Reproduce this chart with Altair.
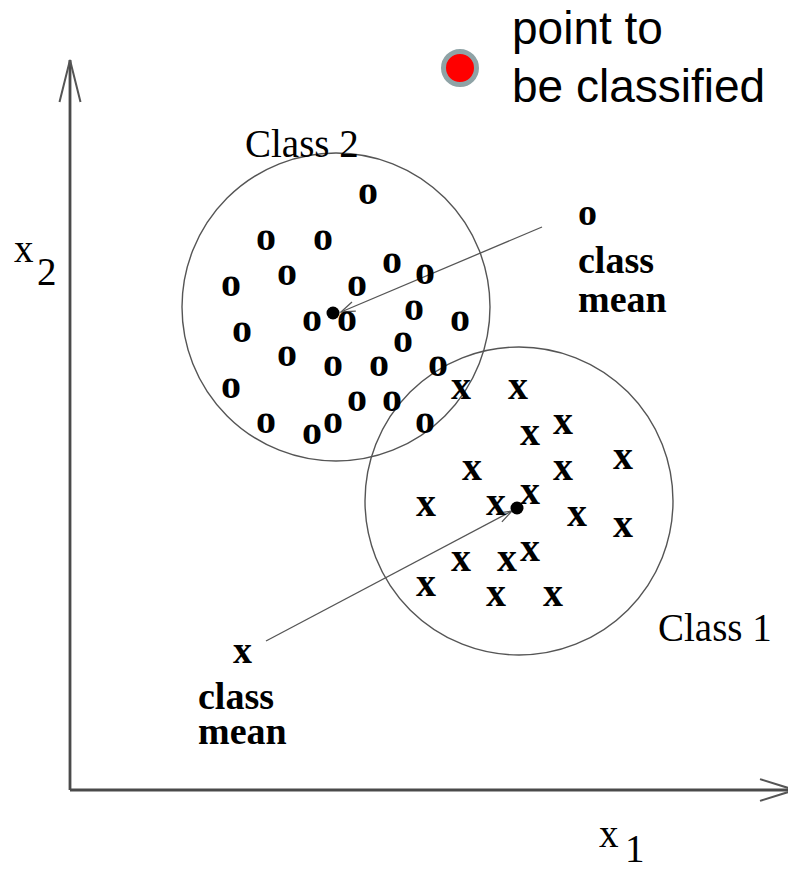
import math
import altair as alt
import pandas as pd

# ---- data (image-pixel coordinates) ----
# class 2 samples ("o")
o_x = [368, 266, 323, 287, 231, 357, 392, 425, 312, 347, 414, 460, 242, 287, 403, 333, 379, 438, 231, 357, 392, 266, 333, 312, 425]
o_y = [195, 241, 241, 276, 287, 287, 264, 275, 322, 322, 311, 322, 333, 357, 343, 367, 367, 367, 389, 402, 402, 424, 424, 435, 424]
# class 1 samples ("x")
x_x = [461, 518, 530, 563, 623, 472, 563, 426, 496, 530, 577, 623, 461, 507, 530, 426, 496, 553]
x_y = [390, 390, 436, 425, 460, 471, 471, 507, 506, 495, 517, 528, 562, 562, 552, 587, 597, 597]

# class circles
circ_cx = [336, 519]
circ_cy = [307, 501]
circ_r = [154, 154]

# class means
mean_x = [333, 517]
mean_y = [313, 508]

# pointer arrows (start -> tip)
arr_x1 = [542, 266]
arr_y1 = [227, 641]
arr_x2 = [341, 512]
arr_y2 = [312, 511]

# axes
ax_x1 = [70, 70]
ax_y1 = [790, 790]
ax_x2 = [70, 795]
ax_y2 = [60, 790]

# point to be classified (legend)
pt_x = [460]
pt_y = [68]

# texts
serif_txt = ["Class 2", "Class 1", "x", "2", "x", "1"]
serif_x = [245, 658, 14, 37, 599, 625]
serif_y = [157, 641, 262, 285, 847, 862]

bold_txt = ["o", "class", "mean", "x", "class", "mean"]
bold_x = [578, 578, 578, 233, 198, 198]
bold_y = [225, 273, 312, 663, 709, 744]

sans_txt = ["point to", "be classified"]
sans_x = [512, 512]
sans_y = [44, 102]

W, H = 780, 855
xs = alt.Scale(domain=[8, 8 + W], nice=False, zero=False)
ys = alt.Scale(domain=[8, 8 + H], nice=False, zero=False, reverse=True)
X = lambda f: alt.X(f, type="quantitative", scale=xs, axis=None)
Y = lambda f: alt.Y(f, type="quantitative", scale=ys, axis=None)

ink = "#555555"

# axes lines
axes_df = pd.DataFrame({"x": ax_x1, "y": ax_y1, "x2": ax_x2, "y2": ax_y2})
axes = alt.Chart(axes_df).mark_rule(color="#4a4a4a", strokeWidth=2.8).encode(
    x=X("x"), y=Y("y"), x2="x2:Q", y2="y2:Q")

# axis arrowheads
yhead = alt.Chart(pd.DataFrame({"x": [ax_x2[0]], "y": [ax_y2[0]], "a": [270]})).mark_point(
    shape="M-1,-0.25L0,0L-1,0.25", size=84 ** 2, filled=False, stroke=ink, strokeWidth=2, opacity=1
).encode(x=X("x"), y=Y("y"), angle=alt.Angle("a:Q", scale=None))
xhead = alt.Chart(pd.DataFrame({"x": [ax_x2[1]], "y": [ax_y2[1]], "a": [0]})).mark_point(
    shape="M-1,-0.31L0,0L-1,0.31", size=70 ** 2, filled=False, stroke=ink, strokeWidth=2, opacity=1
).encode(x=X("x"), y=Y("y"), angle=alt.Angle("a:Q", scale=None))

# circles
circ_df = pd.DataFrame({"x": circ_cx, "y": circ_cy, "s": [(2 * r) ** 2 for r in circ_r]})
circles = alt.Chart(circ_df).mark_point(shape="circle", filled=False, stroke=ink, strokeWidth=1.4, opacity=1).encode(
    x=X("x"), y=Y("y"), size=alt.Size("s:Q", scale=None))

# pointer arrows
arr_df = pd.DataFrame({"x": arr_x1, "y": arr_y1, "x2": arr_x2, "y2": arr_y2})
arr_df["a"] = [math.degrees(math.atan2(b2 - b1, a2 - a1)) % 360
               for a1, b1, a2, b2 in zip(arr_x1, arr_y1, arr_x2, arr_y2)]
arrows = alt.Chart(arr_df).mark_rule(color=ink, strokeWidth=1.3).encode(
    x=X("x"), y=Y("y"), x2="x2:Q", y2="y2:Q")
heads = alt.Chart(arr_df).mark_point(
    shape="M-1,-0.35L0,0L-1,0.35", size=28 ** 2, filled=False, stroke=ink, strokeWidth=1.3, opacity=1
).encode(x=X("x2"), y=Y("y2"), angle=alt.Angle("a:Q", scale=None))

# means
means = alt.Chart(pd.DataFrame({"x": mean_x, "y": mean_y})).mark_point(
    shape="circle", filled=True, color="black", size=169, opacity=1).encode(x=X("x"), y=Y("y"))

# sample markers
samp_df = pd.concat([
    pd.DataFrame({"x": o_x, "y": o_y, "t": "o"}),
    pd.DataFrame({"x": x_x, "y": x_y, "t": "x"}),
])
samples = alt.Chart(samp_df).mark_text(
    font="Liberation Serif", fontWeight="bold", fontSize=40, align="center", baseline="alphabetic", dy=9, color="black"
).encode(x=X("x"), y=Y("y"), text="t:N")

# texts
serif = alt.Chart(pd.DataFrame({"x": serif_x, "y": serif_y, "t": serif_txt})).mark_text(
    font="Liberation Serif", fontSize=39, align="left", baseline="alphabetic", color="black"
).encode(x=X("x"), y=Y("y"), text="t:N")
bold = alt.Chart(pd.DataFrame({"x": bold_x, "y": bold_y, "t": bold_txt})).mark_text(
    font="Liberation Serif", fontWeight="bold", fontSize=38, align="left", baseline="alphabetic", color="black"
).encode(x=X("x"), y=Y("y"), text="t:N")
sans = alt.Chart(pd.DataFrame({"x": sans_x, "y": sans_y, "t": sans_txt})).mark_text(
    font="Liberation Sans", fontSize=46, align="left", baseline="alphabetic", color="black"
).encode(x=X("x"), y=Y("y"), text="t:N")

# point to be classified
point = alt.Chart(pd.DataFrame({"x": pt_x, "y": pt_y})).mark_point(
    shape="circle", filled=True, fill="#ff0000", stroke="#8fa3a6", strokeWidth=5, size=33 ** 2, opacity=1
).encode(x=X("x"), y=Y("y"))

chart = alt.layer(
    axes, yhead, xhead, circles, arrows, heads, means, samples, serif, bold, sans, point
).properties(width=W, height=H, padding=0, autosize="none").configure_view(stroke=None)

chart.save("out.html", embed_options={"renderer": "svg", "actions": False})
